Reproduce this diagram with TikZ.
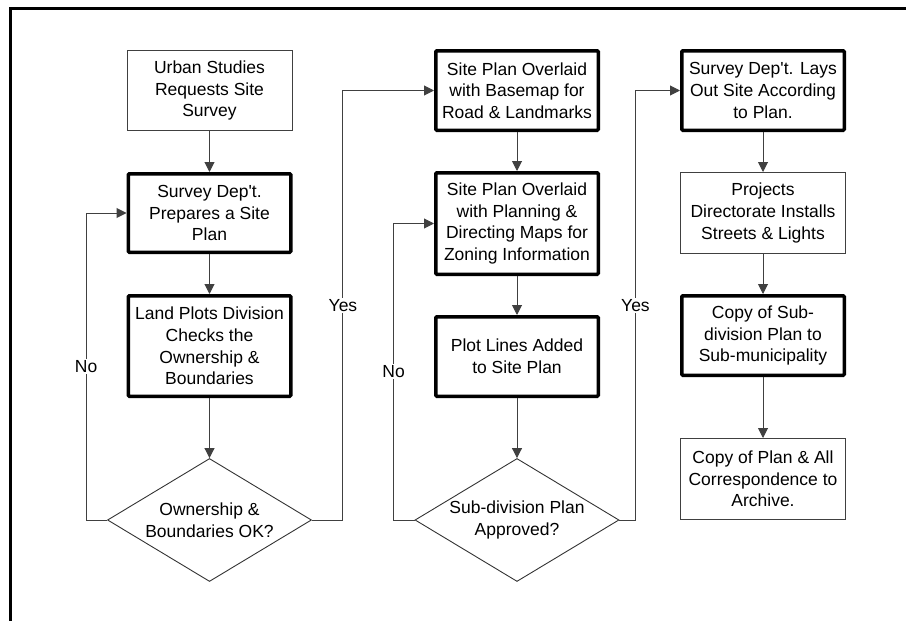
\documentclass[tikz,border=0pt]{standalone}
\usepackage{fontspec}
\setmainfont{Liberation Sans}[Ligatures=TeXOff]
\usetikzlibrary{shapes.geometric,arrows.meta}
\begin{document}
\begin{tikzpicture}[x=1pt,y=-1pt,
  every node/.style={font=\fontsize{17.5}{21.7}\selectfont, align=center},
  thinbox/.style={draw=black!75, line width=1pt, inner sep=0pt, minimum width=165pt},
  thickbox/.style={draw=black, line width=3.5pt, inner sep=0pt, minimum width=162.5pt, rounded corners=1pt},
  decision/.style={draw=black!80, line width=0.9pt, diamond, aspect=1.66, inner sep=0pt,
                   minimum width=204pt, minimum height=123pt},
  flow/.style={draw=black!75, line width=1pt, -{Triangle[length=10pt,width=10pt]}},
  branch/.style={fill=white, inner sep=1.5pt, pos=0.25}
]
\useasboundingbox (0,0) rectangle (906,621);

% outer frame (left and top edges)
\draw[line width=3pt] (10.5,621) -- (10.5,8.5) -- (906,8.5);

% first column
\node[thinbox,  minimum height=80pt]    (u1) at (209.5,90.5) {Urban Studies\\Requests Site\\Survey};
\node[thickbox, minimum height=78.5pt]  (s1) at (209.5,213)  {Survey Dep't.\\Prepares a Site\\Plan};
\node[thickbox, minimum height=100.5pt] (l1) at (209.5,346)  {Land Plots Division\\Checks the\\Ownership \&\\Boundaries};
\node[decision] (d1) at (209.5,520) {Ownership \&\\Boundaries OK?};

% second column
\node[thickbox, minimum height=79.5pt]  (o1) at (517,90.5)  {Site Plan Overlaid\\with Basemap for\\Road \& Landmarks};
\node[thickbox, minimum height=101.5pt] (o2) at (517,223.5) {Site Plan Overlaid\\with Planning \&\\Directing Maps for\\Zoning Information};
\node[thickbox, minimum height=79.5pt]  (p2) at (517,356.5) {Plot Lines Added\\to Site Plan};
\node[decision] (d2) at (517,520) {Sub-division Plan\\Approved?};

% third column
\node[thickbox, minimum height=79.5pt] (v3) at (763,90.5)  {Survey Dep't. Lays\\Out Site According\\to Plan.};
\node[thinbox,  minimum height=81pt]   (r3) at (763,213)   {Projects\\Directorate Installs\\Streets \& Lights};
\node[thickbox, minimum height=79.5pt] (c3) at (763,335.5) {Copy of Sub-\\division Plan to\\Sub-municipality};
\node[thinbox,  minimum height=81pt]   (a3) at (763,479)   {Copy of Plan \& All\\Correspondence to\\Archive.};

% main flow
\draw[flow] (u1) -- (s1);
\draw[flow] (s1) -- (l1);
\draw[flow] (l1) -- (d1);
\draw[flow] (o1) -- (o2);
\draw[flow] (o2) -- (p2);
\draw[flow] (p2) -- (d2);
\draw[flow] (v3) -- (r3);
\draw[flow] (r3) -- (c3);
\draw[flow] (c3) -- (a3);

% decision branches
\draw[flow] (d1.west) -- ++(-21,0) |- node[branch] {No}  (s1.west);
\draw[flow] (d1.east) -- ++(31,0)  |- node[branch] {Yes} (o1.west);
\draw[flow] (d2.west) -- ++(-21,0) |- node[branch] {No}  (o2.west);
\draw[flow] (d2.east) -- ++(16,0)  |- node[branch] {Yes} (v3.west);
\end{tikzpicture}
\end{document}
